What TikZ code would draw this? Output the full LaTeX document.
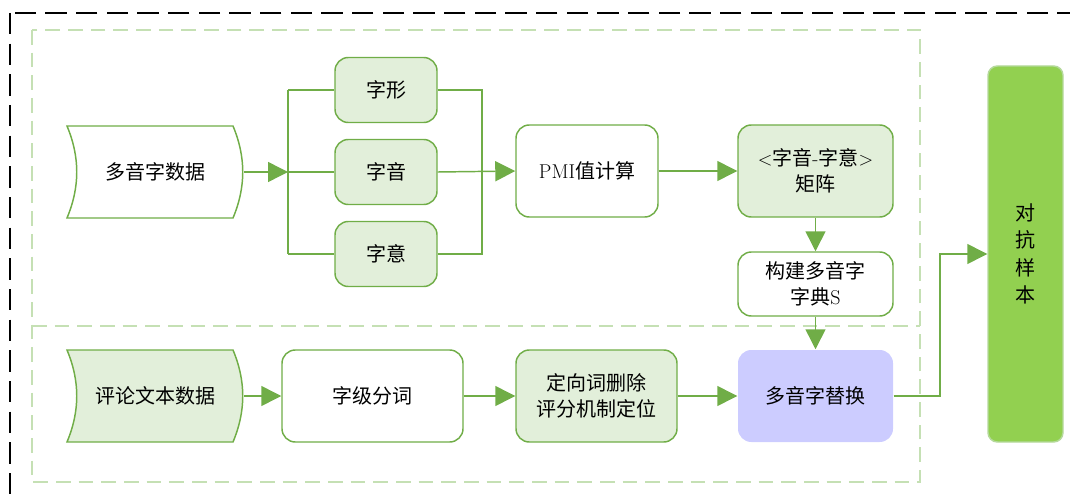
\documentclass[tikz,border=0pt]{standalone}
\usepackage{fontspec}
\newfontfamily\cjk{Noto Sans CJK SC}
\usetikzlibrary{arrows.meta,calc}
\definecolor{gline}{HTML}{70AD47}
\definecolor{gfill}{HTML}{E2EFDA}
\definecolor{gdash}{HTML}{C5E0B4}
\definecolor{lav}{HTML}{CCCCFF}
\definecolor{advg}{HTML}{92D050}
\definecolor{advb}{HTML}{B5D99C}
\tikzset{
  txt/.style={font=\cjk\fontsize{15}{19.5}\selectfont, align=center, inner sep=0pt},
  box/.style={txt, draw=gline, line width=1.1pt, rounded corners=10pt},
  smallbox/.style={box, minimum width=76.5pt, minimum height=48.75pt, fill=gfill},
  bigbox/.style={box, minimum height=69pt},
  datanode/.style={txt, minimum width=132.75pt, minimum height=69pt},
  datashape/.style={draw=gline, line width=1.1pt},
  conn/.style={draw=gline, line width=1.1pt},
  arr/.style={conn, -{Triangle[length=15pt,width=15pt]}},
  outerdash/.style={draw=black, line width=1.1pt, dash pattern=on 16pt off 7pt},
  greendash/.style={draw=gdash, line width=1.1pt, dash pattern=on 11pt off 6pt},
}
\begin{document}
\begin{tikzpicture}[x=0.75pt,y=-0.75pt]
\useasboundingbox (0,0) rectangle (1070,499);
\clip (0,0) rectangle (1070,499);
% frames
\draw[outerdash] (10,13) rectangle (1085,515);
\draw[greendash] (32,30) rectangle (920,482);
\draw[greendash] (32,326) -- (920,326);

% data shapes
\draw[datashape, fill=white] (67,126) -- (233,126) .. controls (246,157) and (246,187) .. (233,218) -- (67,218) .. controls (80,187) and (80,157) .. cycle;
\draw[datashape, fill=gfill] (67,350) -- (233,350) .. controls (246,381) and (246,411) .. (233,442) -- (67,442) .. controls (80,411) and (80,381) .. cycle;
\node[datanode] (d1) at (155,172) {多音字数据};
\node[datanode] (d2) at (155,396) {评论文本数据};

% top row
\node[smallbox] (z1) at (386,90) {字形};
\node[smallbox] (z2) at (386,172) {字音};
\node[smallbox] (z3) at (386,254) {字意};
\node[bigbox, minimum width=106.5pt, fill=white] (pmi) at (587,171) {\rmfamily PMI\cjk 值计算};
\node[bigbox, minimum width=116.25pt, fill=gfill] (mat) at (815.5,171) {\rmfamily$<$\cjk 字音\rmfamily -\cjk 字意\rmfamily$>$\\矩阵};
\node[box, minimum width=116.25pt, minimum height=48pt, fill=white] (dict) at (815.5,284) {构建多音字\\字典\rmfamily S};
\node[bigbox, minimum width=116.25pt, draw=none, fill=lav] (rep) at (815.5,396) {多音字替换};
\node[box, minimum width=56.25pt, minimum height=282pt, fill=advg, draw=advb, rounded corners=7pt, font=\cjk\fontsize{15}{20.5}\selectfont] (adv) at (1025.5,254) {对\\抗\\样\\本};

% bottom row
\node[bigbox, minimum width=135.75pt, fill=white] (cut) at (372.5,396) {字级分词};
\node[bigbox, minimum width=120.75pt, fill=gfill] (loc) at (596.5,396) {定向词删除\\评分机制定位};

% connectors
\coordinate (jl) at (288,172);
\coordinate (jr) at (482,172);
\path[arr] (d1.east) -- (jl);
\path[conn] (jl |- z1.west) -- (jl |- z3.west);
\path[conn] (jl |- z1.west) -- (z1.west);
\path[conn] (jl) -- (z2.west);
\path[conn] (jl |- z3.west) -- (z3.west);
\path[conn] (z1.east) -- (jr |- z1.east) -- (jr |- z3.east) -- (z3.east);
\path[arr] (z2.east) -- (pmi.west);
\path[arr] (pmi.east) -- (mat.west);
\path[arr] (mat.south) -- (dict.north);
\path[arr] (dict.south) -- (rep.north);
\coordinate (bend) at (940,396);
\path[arr] (rep.east) -- (bend) |- (adv.west);
\path[arr] (d2.east) -- (cut.west);
\path[arr] (cut.east) -- (loc.west);
\path[arr] (loc.east) -- (rep.west);
\end{tikzpicture}
\end{document}
